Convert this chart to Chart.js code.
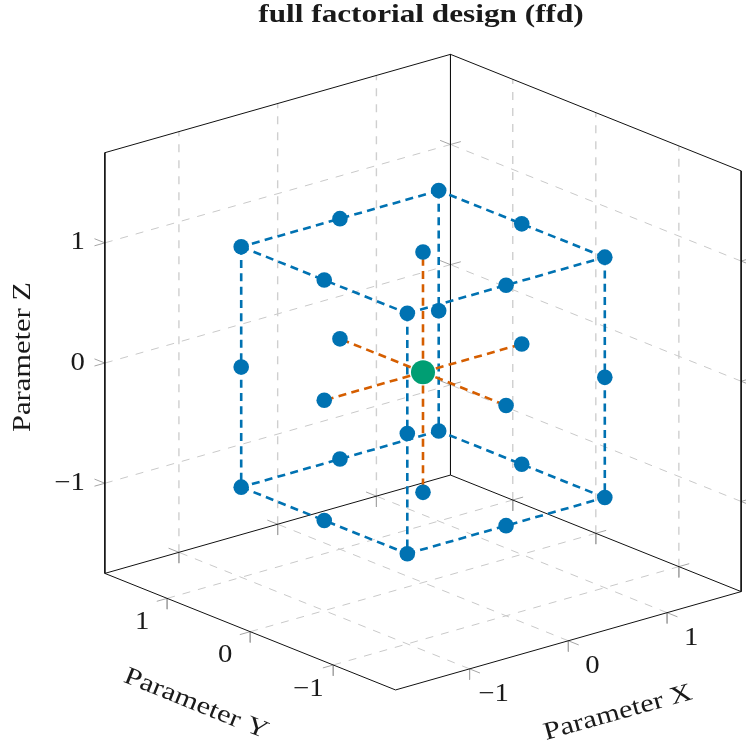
<!DOCTYPE html>
<html>
<head>
<meta charset="utf-8">
<title>full factorial design (ffd)</title>
<script src="https://cdn.jsdelivr.net/npm/chart.js@4/dist/chart.umd.min.js"></script>
<style>
  html, body { margin: 0; padding: 0; background: #fff; }
  canvas { display: block; }
</style>
</head>
<body>
<canvas id="chart" width="746" height="751"></canvas>
<script>
// design points, coded levels
let cubeX = [-1, 0, 1, 1, 1, 0, -1, -1, -1, 0, 1, 1, 1, 0, -1, -1, -1, 1, 1, -1];
let cubeY = [-1, -1, -1, 0, 1, 1, 1, 0, -1, -1, -1, 0, 1, 1, 1, 0, -1, -1, 1, 1];
let cubeZ = [1, 1, 1, 1, 1, 1, 1, 1, -1, -1, -1, -1, -1, -1, -1, -1, 0, 0, 0, 0];
let axialX = [-1, 1, 0, 0, 0, 0];
let axialY = [0, 0, -1, 1, 0, 0];
let axialZ = [0, 0, 0, 0, -1, 1];
let centerX = [0];
let centerY = [0];
let centerZ = [0];

// cube edges, as index pairs into the cube arrays (corner, corner)
let edgeFrom = [0, 2, 4, 6, 8, 10, 12, 14, 0, 2, 4, 6];
let edgeTo = [2, 4, 6, 0, 10, 12, 14, 8, 8, 10, 12, 14];

let tickValues = [-1, 0, 1];
let tickLabels = ['\u22121', '0', '1'];
let xLimit = 1.75;
let yLimit = 1.75;
let zLimit = 1.75;

// oblique view: screen offset per data unit (y up)
let viewX = [98.75, 28.1];
let viewY = [-83.05, 33.3];
let viewZ = [0, 120.2];
let originPx = [423, 372.15];

const GAP = { x: NaN, y: NaN };

function project(x, y, z) {
  return {
    x: x * viewX[0] + y * viewY[0] + z * viewZ[0],
    y: x * viewX[1] + y * viewY[1] + z * viewZ[1]
  };
}

function segment(a, b) {
  return [project(a[0], a[1], a[2]), project(b[0], b[1], b[2]), GAP];
}

// dashed grid on the two back walls and the floor, split by direction
let gridVertical = [];
let gridSloped = [];
tickValues.forEach(t => {
  gridVertical.push(...segment([t, yLimit, -zLimit], [t, yLimit, zLimit]));
  gridVertical.push(...segment([xLimit, t, -zLimit], [xLimit, t, zLimit]));
  gridSloped.push(...segment([-xLimit, yLimit, t], [xLimit, yLimit, t]));
  gridSloped.push(...segment([xLimit, -yLimit, t], [xLimit, yLimit, t]));
  gridSloped.push(...segment([t, -yLimit, -zLimit], [t, yLimit, -zLimit]));
  gridSloped.push(...segment([-xLimit, t, -zLimit], [xLimit, t, -zLimit]));
});

// short tick marks, given in data units along the outward direction
let tickX = 0.105;
let tickY = 0.125;
let tickZ = 0.09;
let ticks = [];
tickValues.forEach(t => {
  [-yLimit, yLimit].forEach(y => {
    ticks.push(...segment([t, y, -zLimit], [t, y, -zLimit - tickZ]));
    ticks.push(...segment([t, y, -zLimit], [t, y + Math.sign(y) * tickY, -zLimit]));
  });
  [-xLimit, xLimit].forEach(x => {
    ticks.push(...segment([x, t, -zLimit], [x, t, -zLimit - tickZ]));
    ticks.push(...segment([x, t, -zLimit], [x + Math.sign(x) * tickX, t, -zLimit]));
  });
  [[-xLimit, yLimit], [xLimit, yLimit], [xLimit, -yLimit]].forEach(c => {
    ticks.push(...segment([c[0], c[1], t], [c[0] + Math.sign(c[0]) * tickX, c[1], t]));
    ticks.push(...segment([c[0], c[1], t], [c[0], c[1] + Math.sign(c[1]) * tickY, t]));
  });
});

let box = [
  [[-xLimit, yLimit, zLimit], [xLimit, yLimit, zLimit]],
  [[xLimit, yLimit, zLimit], [xLimit, -yLimit, zLimit]],
  [[-xLimit, yLimit, zLimit], [-xLimit, yLimit, -zLimit]],
  [[xLimit, yLimit, zLimit], [xLimit, yLimit, -zLimit]],
  [[xLimit, -yLimit, zLimit], [xLimit, -yLimit, -zLimit]],
  [[-xLimit, yLimit, -zLimit], [xLimit, yLimit, -zLimit]],
  [[xLimit, yLimit, -zLimit], [xLimit, -yLimit, -zLimit]],
  [[-xLimit, yLimit, -zLimit], [-xLimit, -yLimit, -zLimit]],
  [[-xLimit, -yLimit, -zLimit], [xLimit, -yLimit, -zLimit]]
].flatMap(s => segment(s[0], s[1]));

function cubePoint(i) {
  return [cubeX[i], cubeY[i], cubeZ[i]];
}

let cubeEdges = edgeFrom.flatMap((a, i) => segment(cubePoint(a), cubePoint(edgeTo[i])));
let axialLines = axialX.flatMap((x, i) => segment([centerX[0], centerY[0], centerZ[0]], [x, axialY[i], axialZ[i]]));

let cubePoints = cubeX.map((x, i) => project(x, cubeY[i], cubeZ[i]));
let axialPoints = axialX.map((x, i) => project(x, axialY[i], axialZ[i]));
let centerPoints = centerX.map((x, i) => project(x, centerY[i], centerZ[i]));

function lineSet(data, color, width, dash) {
  return {
    type: 'scatter', data: data, showLine: true, spanGaps: false, pointRadius: 0,
    borderColor: color, borderWidth: width, borderDash: dash, borderCapStyle: 'butt', clip: false
  };
}

function pointSet(data, color, radius) {
  return {
    type: 'scatter', data: data, showLine: false, pointRadius: radius,
    pointBackgroundColor: color, pointBorderWidth: 0, clip: false
  };
}

// axis titles, tick labels and plot title are drawn on top of the scatter
const textPlugin = {
  id: 'text3d',
  afterDraw(chart) {
    const ctx = chart.ctx;
    const px = p => [chart.scales.x.getPixelForValue(p.x), chart.scales.y.getPixelForValue(p.y)];
    const put = (str, x, y, font, angle, align, stretch) => {
      ctx.save();
      ctx.translate(x, y);
      ctx.rotate((angle || 0) * Math.PI / 180);
      ctx.scale(stretch || 1, 1);
      ctx.font = font;
      ctx.fillStyle = '#1a1a1a';
      ctx.textAlign = align || 'center';
      ctx.textBaseline = 'middle';
      ctx.fillText(str, 0, 0);
      ctx.restore();
    };
    const tickFont = '25px "Liberation Serif"';
    const labelFont = '25px "Liberation Serif"';
    tickValues.forEach((t, i) => {
      let a = px(project(t, -yLimit, -zLimit));
      put(tickLabels[i], a[0] + 24, a[1] + 26, tickFont, 0, 'center', 1.15);
      let b = px(project(-xLimit, t, -zLimit));
      put(tickLabels[i], b[0] - 25, b[1] + 24, tickFont, 0, 'center', 1.15);
      let c = px(project(-xLimit, yLimit, t));
      put(tickLabels[i], c[0] - 20, c[1], tickFont, 0, 'right', 1.15);
    });
    put('full factorial design (ffd)', 421, 16, 'bold 25px "Liberation Serif"', 0, 'center', 1.25);
    put('Parameter X', 618, 713, labelFont, -15.6, 'center', 1.22);
    put('Parameter Y', 196, 704, labelFont, 22, 'center', 1.22);
    put('Parameter Z', 23, 357, labelFont, -90, 'center', 1.22);
  }
};

new Chart(document.getElementById('chart'), {
  data: {
    // lower order is drawn on top, so marks come first
    datasets: [
      Object.assign(pointSet(centerPoints, '#009E73', 12), { order: 0 }),
      Object.assign(pointSet(cubePoints, '#0072B2', 7.8), { order: 1 }),
      Object.assign(pointSet(axialPoints, '#0072B2', 7.8), { order: 1 }),
      Object.assign(lineSet(axialLines, '#D55E00', 2.6, [8, 5.3]), { order: 2 }),
      Object.assign(lineSet(cubeEdges, '#0072B2', 2.6, [8, 5.3]), { order: 3 }),
      Object.assign(lineSet(box, '#111111', 1, []), { order: 4 }),
      Object.assign(lineSet(ticks, '#a6a6a6', 1, []), { order: 5 }),
      Object.assign(lineSet(gridVertical, '#cfcfcf', 1.4, [8, 8]), { order: 6 }),
      Object.assign(lineSet(gridSloped, '#c9c9c9', 1, [8, 8]), { order: 7 })
    ]
  },
  plugins: [textPlugin],
  options: {
    responsive: false,
    animation: false,
    devicePixelRatio: 1,
    layout: { padding: 0, autoPadding: false },
    plugins: { legend: { display: false }, tooltip: { enabled: false } },
    scales: {
      x: { type: 'linear', display: false, min: -originPx[0], max: 746 - originPx[0] },
      y: { type: 'linear', display: false, min: originPx[1] - 751, max: originPx[1] }
    }
  }
});
</script>
</body>
</html>
